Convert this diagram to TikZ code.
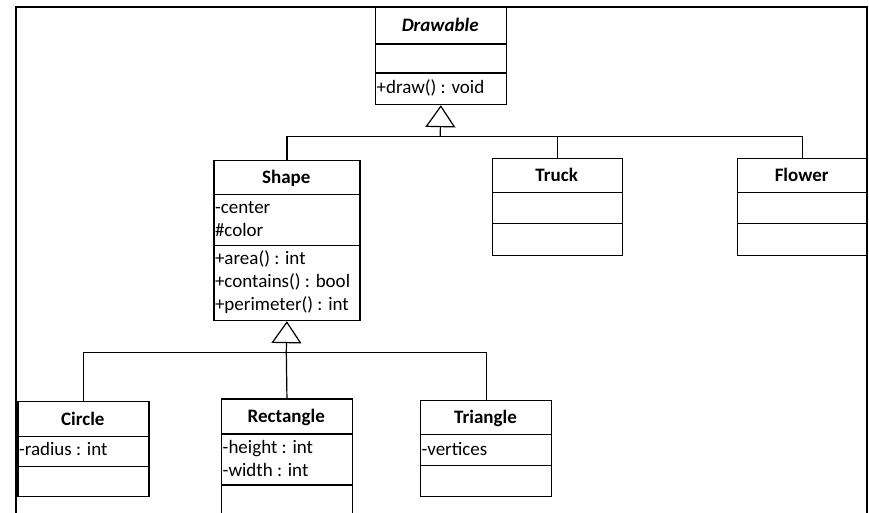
\documentclass[tikz,border=0pt]{standalone}
\usepackage{fontspec}
\setmainfont{Carlito}
\usetikzlibrary{arrows.meta}
\begin{document}
\begin{tikzpicture}[x=1pt,y=-1pt,
  classbox/.style={draw, line width=1.2pt, inner sep=0pt, anchor=north west},
  title/.style={font=\fontsize{19}{23}\selectfont\bfseries, inner sep=0pt, anchor=base},
  member/.style={font=\fontsize{19}{23}\selectfont, inner sep=0pt, anchor=base west},
  link/.style={line width=1.2pt},
  gen/.style={link, -{Triangle[open, length=22pt, width=30pt, line width=1.2pt]}}]
\useasboundingbox (0,0) rectangle (869,513);
\clip (0,0) rectangle (869,513);

% outer frame
\draw[line width=2.6pt] (16,540) -- (16,7) -- (867,7) -- (867,540);

% compartment separator: #1 box name, #2 offset from top
\newcommand\compline[2]{\draw[link] ([yshift=-#2pt]#1.north west) -- ([yshift=-#2pt]#1.north east);}

% Drawable
\node[classbox, minimum width=130.5pt, minimum height=97pt] (drawable) at (375,7) {};
\compline{drawable}{37}\compline{drawable}{66}
\node[title, font=\fontsize{19}{23}\selectfont\bfseries\itshape] (drawableT) at (440.2,31.5) {Drawable};
\node[member] (drawableM) at (376.5,93.5) {+draw() : void};

% Shape
\node[classbox, minimum width=146pt, minimum height=160pt] (shape) at (213.3,160) {};
\compline{shape}{34.3}\compline{shape}{85.7}
\node[title] (shapeT) at (286.3,183) {Shape};
\node[member] (shapeA1) at (214.8,213) {-center};
\node[member] (shapeA2) at (214.8,236) {\#color};
\node[member] (shapeO1) at (214.8,264) {+area() : int};
\node[member] (shapeO2) at (214.8,287) {+contains() : bool};
\node[member] (shapeO3) at (214.8,310) {+perimeter() : int};

% Truck
\node[classbox, minimum width=130pt, minimum height=96.7pt] (truck) at (491.7,158.3) {};
\compline{truck}{34}\compline{truck}{65}
\node[title] (truckT) at (556.7,181.5) {Truck};

% Flower
\node[classbox, minimum width=130pt, minimum height=96.7pt] (flower) at (736.7,158.3) {};
\compline{flower}{34}\compline{flower}{65}
\node[title] (flowerT) at (801.7,181.5) {Flower};

% Circle
\node[classbox, minimum width=131pt, minimum height=94.7pt] (circle) at (17.3,401) {};
\compline{circle}{35.7}\compline{circle}{65.7}
\node[title] (circleT) at (82.8,425) {Circle};
\node[member] (circleA1) at (18.8,455) {-radius : int};

% Rectangle
\node[classbox, minimum width=130.7pt, minimum height=140pt] (rect) at (221,398.3) {};
\compline{rect}{35.7}\compline{rect}{86.7}
\node[title] (rectT) at (286.3,422) {Rectangle};
\node[member] (rectA1) at (222.5,453) {-height : int};
\node[member] (rectA2) at (222.5,476.5) {-width : int};

% Triangle
\node[classbox, minimum width=131pt, minimum height=95.7pt] (tri) at (420,400) {};
\compline{tri}{34.3}\compline{tri}{65.7}
\node[title] (triT) at (485.5,423) {Triangle};
\node[member] (triA1) at (421.5,455) {-vertices};

% generalisation connectors
\coordinate (busA) at (440.2,136.5);
\coordinate (busB) at (286.3,352.3);
\draw[gen] (busA) -- (drawable.south);
\draw[link] (shape.north) |- (busA) -| (flower.north);
\draw[link] (truck.north) -- (truck.north |- busA);

\draw[gen] (busB) -- (shape.south);
\draw[link] (circle.north) |- (busB) -| (tri.north);
\draw[link] (rect.north) -- (busB);
\end{tikzpicture}
\end{document}
